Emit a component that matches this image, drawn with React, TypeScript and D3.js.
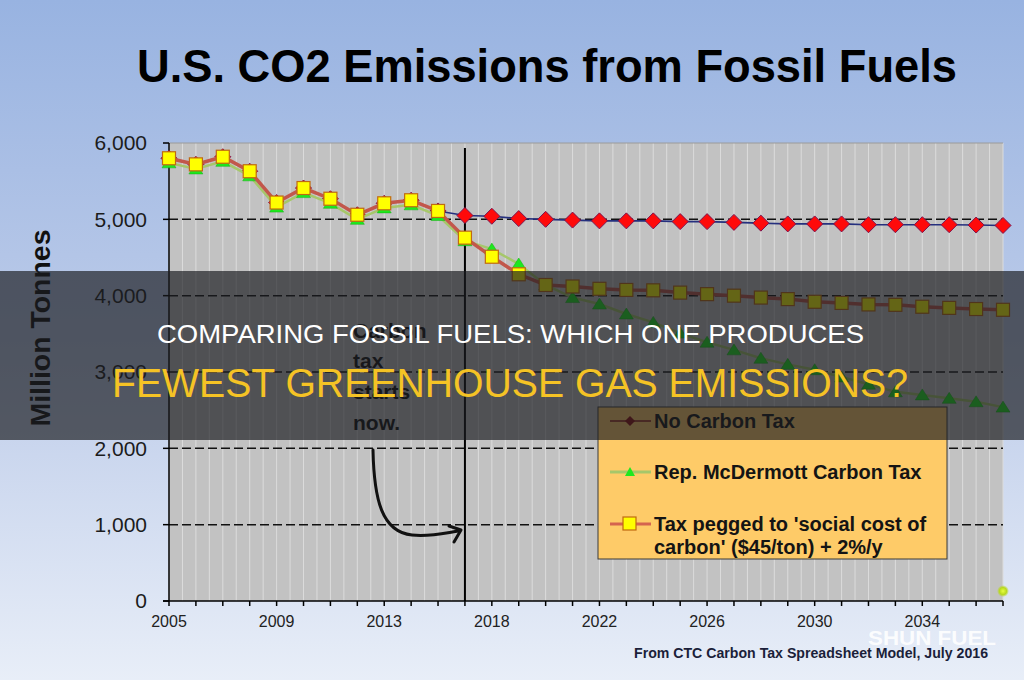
import React from 'react';
import { scaleLinear, scalePoint, line } from 'd3';

// categories (the source chart skips 2016 on its axis)
const years = [2005, 2006, 2007, 2008, 2009, 2010, 2011, 2012, 2013, 2014, 2015,
  2017, 2018, 2019, 2020, 2021, 2022, 2023, 2024, 2025, 2026, 2027, 2028, 2029,
  2030, 2031, 2032, 2033, 2034, 2035, 2036, 2037];

const xTickLabels = ['2005', '2009', '2013', '2018', '2022', '2026', '2030', '2034'];
const yTicks = [0, 1000, 2000, 3000, 4000, 5000, 6000];
const taxStartYear = 2017;

const noCarbonTax = [5800, 5720, 5820, 5630, 5220, 5410, 5270, 5060, 5210, 5250, 5110,
  5050, 5040, 5010, 5000, 4990, 4980, 4980, 4980, 4970, 4970, 4960, 4950, 4940,
  4940, 4940, 4930, 4930, 4930, 4930, 4925, 4920];

const mcDermottTax = [5740, 5660, 5760, 5570, 5160, 5350, 5210, 5000, 5150, 5190, 5050,
  4720, 4610, 4415, 4140, 3975, 3890, 3760, 3650, 3510, 3390, 3290, 3180, 3100,
  3030, 2935, 2840, 2740, 2700, 2655, 2610, 2540];

const socialCostTax = [5800, 5720, 5820, 5630, 5220, 5410, 5270, 5060, 5210, 5250, 5110,
  4760, 4510, 4280, 4140, 4120, 4090, 4075, 4070, 4040, 4020, 4000, 3975, 3955,
  3920, 3905, 3885, 3880, 3855, 3840, 3825, 3815];

// lone stray marker at the far right of the original
const strayPoint = [{ year: 2037, value: 130 }];

const legendLabels = ['No Carbon Tax', 'Rep. McDermott Carbon Tax', "Tax pegged to 'social cost of", "carbon' ($45/ton) + 2%/y"];

const FONT = '"Liberation Sans", Arial, sans-serif';

const diamond = (s) => `M0,${-s} L${s},0 L0,${s} L${-s},0 Z`;
const triangle = (w, up, down) => `M0,${-up} L${w},${down} L${-w},${down} Z`;

const App = () => {
  const width = 1024;
  const height = 680;
  const plot = { left: 169, right: 1003, top: 143, bottom: 601 };

  const xScale = scalePoint().domain(years).range([plot.left, plot.right]);
  const yScale = scaleLinear().domain([0, 6000]).range([plot.bottom, plot.top]);
  const step = xScale.step();

  const mkLine = line()
    .x((d, i) => xScale(years[i]))
    .y(d => yScale(d));

  const taxX = xScale(taxStartYear);

  const minor = [];
  years.forEach((y, i) => {
    minor.push(xScale(y));
    if (i < years.length - 1) minor.push(xScale(y) + step / 2);
  });

  return (
    <svg width={width} height={height} style={{ position: 'absolute', left: 0, top: 0, fontFamily: FONT }}>
      <defs>
        <linearGradient id="bg" x1="0" y1="0" x2="0" y2="1">
          <stop offset="0" stopColor="#98b3e1" />
          <stop offset="0.5" stopColor="#bccbe9" />
          <stop offset="1" stopColor="#e8eef8" />
        </linearGradient>
        <radialGradient id="glow">
          <stop offset="0" stopColor="#e8ff40" />
          <stop offset="0.6" stopColor="#b8d820" />
          <stop offset="1" stopColor="#b8d820" stopOpacity="0" />
        </radialGradient>
      </defs>
      <rect width={width} height={height} fill="url(#bg)" />

      <text x={137} y={82} fontSize={46} fontWeight="bold" fill="#000" textLength={820} lengthAdjust="spacingAndGlyphs">
        U.S. CO2 Emissions from Fossil Fuels
      </text>

      {/* plot area */}
      <rect x={plot.left} y={plot.top} width={plot.right - plot.left} height={plot.bottom - plot.top} fill="#c2c2c2" />
      {minor.map((x, i) => (
        <line key={'m' + i} x1={x} x2={x} y1={plot.top} y2={plot.bottom} stroke="#dcdcdc" strokeWidth={1} />
      ))}
      <line x1={plot.left} x2={plot.right} y1={plot.top} y2={plot.top} stroke="#9a9a9a" />
      {yTicks.filter(t => t > 0 && t < 6000).map(t => (
        <line key={'g' + t} x1={plot.left} x2={plot.right} y1={yScale(t)} y2={yScale(t)}
          stroke="#111" strokeWidth={1.5} strokeDasharray="9 4" />
      ))}

      {/* axes */}
      <path d={`M ${plot.left} ${plot.top} V ${plot.bottom}`} stroke="#000" strokeWidth={1.5} />
      <path d={`M ${plot.left - 6} ${plot.bottom} H ${plot.right}`} stroke="#000" strokeWidth={1.5} />
      {yTicks.map(t => (
        <g key={'y' + t} transform={`translate(0, ${yScale(t)})`}>
          <line x1={plot.left - 6} x2={plot.left} stroke="#000" strokeWidth={1.5} />
          <text x={147} dy="0.35em" textAnchor="end" fontSize={21} fill="#1c1c1c">
            {t.toLocaleString('en-US')}
          </text>
        </g>
      ))}
      {years.map(y => (
        <line key={'xt' + y} x1={xScale(y)} x2={xScale(y)} y1={plot.bottom} y2={plot.bottom + 5} stroke="#000" strokeWidth={1.5} />
      ))}
      {years.filter(y => xTickLabels.includes(String(y))).map(y => (
        <text key={'xl' + y} x={xScale(y)} y={627} textAnchor="middle" fontSize={16} fill="#222">{y}</text>
      ))}

      <text transform="translate(50, 328) rotate(-90)" textAnchor="middle" fontSize={28} fontWeight="bold"
        fill="#111" textLength={197} lengthAdjust="spacingAndGlyphs">
        Million Tonnes
      </text>

      {/* tax start marker */}
      <line x1={taxX} x2={taxX} y1={plot.top + 5} y2={plot.bottom} stroke="#000" strokeWidth={2} />

      {/* series: no carbon tax */}
      <path d={mkLine(noCarbonTax)} fill="none" stroke="#25307e" strokeWidth={1.6} />
      {noCarbonTax.map((v, i) => (
        <path key={'d' + i} d={diamond(8)} transform={`translate(${xScale(years[i])}, ${yScale(v)})`}
          fill="#ff0a0a" stroke="#7a1550" strokeWidth={1} />
      ))}

      {/* series: McDermott */}
      <path d={mkLine(mcDermottTax)} fill="none" stroke="#a6c76a" strokeWidth={2.5} />
      {mcDermottTax.map((v, i) => (
        <path key={'t' + i} d={triangle(7, 6, 5)} transform={`translate(${xScale(years[i])}, ${yScale(v)})`}
          fill="#1ee81e" stroke="#12b012" strokeWidth={0.5} />
      ))}

      {/* series: social cost */}
      <path d={mkLine(socialCostTax)} fill="none" stroke="#c2574b" strokeWidth={3.5} />
      {socialCostTax.map((v, i) => (
        <rect key={'s' + i} x={xScale(years[i]) - 6.5} y={yScale(v) - 6.5} width={13} height={13}
          fill="#ffff00" stroke="#c06a10" strokeWidth={1.2} />
      ))}

      {strayPoint.map((p, i) => (
        <circle key={'p' + i} cx={xScale(p.year)} cy={yScale(p.value)} r={6} fill="url(#glow)" />
      ))}

      {/* annotation */}
      <g fontSize={21} fontWeight="bold" fill="#111">
        <text x={353} y={338}>Carbon</text>
        <text x={353} y={368}>tax</text>
        <text x={353} y={399}>starts</text>
        <text x={353} y={430}>now.</text>
      </g>
      <path d="M373,450 C374,500 382,532 412,535 C430,537 445,533 459,531" fill="none" stroke="#111" strokeWidth={3} strokeLinecap="round" />
      <path d="M449,526 L461,530 L454,542" fill="none" stroke="#111" strokeWidth={3} strokeLinecap="round" strokeLinejoin="round" />

      {/* legend */}
      <g>
        <rect x={598} y={407} width={349} height={152} fill="#fecb68" stroke="#3a3a3a" strokeWidth={1} />
        <line x1={610} x2={651} y1={421} y2={421} stroke="#8b1a1a" strokeWidth={1.5} />
        <path d={diamond(5)} transform="translate(630, 421)" fill="#8b0d0d" />
        <line x1={610} x2={651} y1={472} y2={472} stroke="#a6c76a" strokeWidth={3} />
        <path d={triangle(5, 5, 4)} transform="translate(630, 472)" fill="#1ee81e" />
        <line x1={610} x2={651} y1={524} y2={524} stroke="#d4644f" strokeWidth={3} />
        <rect x={623} y={517} width={13} height={13} fill="#ffff00" stroke="#c06a10" strokeWidth={1.2} />
        <g fontSize={20} fontWeight="bold" fill="#141414">
          <text x={654} y={428}>{legendLabels[0]}</text>
          <text x={654} y={479}>{legendLabels[1]}</text>
          <text x={654} y={531}>{legendLabels[2]}</text>
          <text x={654} y={554}>{legendLabels[3]}</text>
        </g>
      </g>

      <text x={634} y={658} fontSize={15} fontWeight="bold" fill="#1b1f3a" textLength={354} lengthAdjust="spacingAndGlyphs">
        From CTC Carbon Tax Spreadsheet Model, July 2016
      </text>

      {/* banner overlay */}
      <rect x={0} y={271} width={width} height={169} fill="rgba(26,28,33,0.68)" />
      <text x={157} y={343} fontSize={26} fill="#ffffff" textLength={707} lengthAdjust="spacingAndGlyphs">
        COMPARING FOSSIL FUELS: WHICH ONE PRODUCES
      </text>
      <text x={112} y={397} fontSize={40} fill="#f5c325" textLength={796} lengthAdjust="spacingAndGlyphs">
        FEWEST GREENHOUSE GAS EMISSIONS?
      </text>

      <text x={868} y={645} fontSize={21} fontWeight="bold" fill="#ffffff" fillOpacity={0.9} textLength={128} lengthAdjust="spacingAndGlyphs">
        SHUN FUEL
      </text>
    </svg>
  );
};

export default App;
